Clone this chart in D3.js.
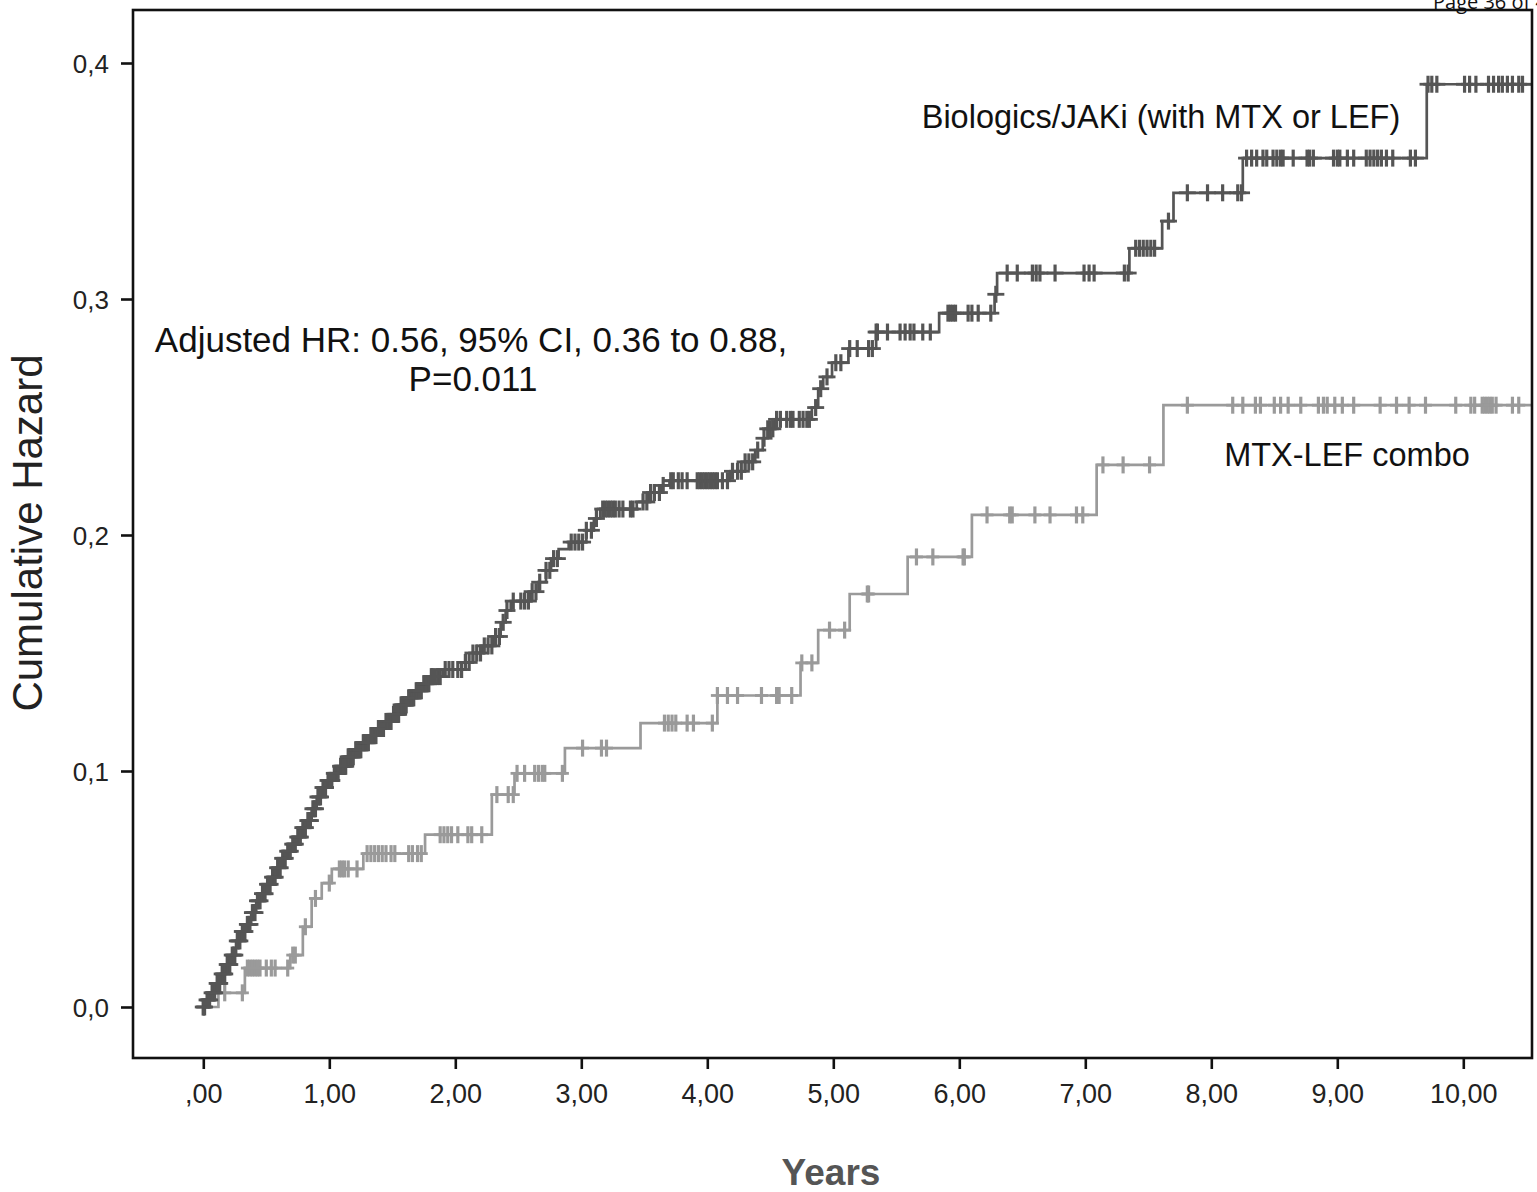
<!DOCTYPE html>
<html>
<head>
<meta charset="utf-8">
<script src="https://cdn.jsdelivr.net/npm/d3@7"></script>
<style>
  body { margin: 0; background: #fff; }
  svg text { font-family: "Liberation Sans", Arial, sans-serif; }
</style>
</head>
<body>
<svg id="chart" width="1537" height="1192"></svg>
<script>
// cumulative hazard, biologics/JAKi (event times in years, hazard after event)
const bioTimes = [0.00, 0.02, 0.06, 0.10, 0.14, 0.18, 0.22, 0.26, 0.30, 0.34, 0.38, 0.42, 0.46, 0.50,
  0.54, 0.58, 0.62, 0.66, 0.70, 0.74, 0.78, 0.82, 0.86, 0.90, 0.94, 0.98, 1.03, 1.08, 1.14, 1.20,
  1.26, 1.32, 1.38, 1.44, 1.50, 1.56, 1.62, 1.68, 1.74, 1.80, 1.90, 2.08, 2.14, 2.22, 2.30, 2.36,
  2.40, 2.44, 2.60, 2.66, 2.72, 2.76, 2.82, 2.90, 3.04, 3.10, 3.15, 3.44, 3.54, 3.64, 3.70, 4.18,
  4.30, 4.38, 4.44, 4.48, 4.54, 4.83, 4.88, 4.92, 4.99, 5.12, 5.34, 5.84, 6.28, 6.30, 7.35, 7.61,
  7.70, 8.25, 9.71]
const bioHazard = [0.000, 0.003, 0.006, 0.010, 0.014, 0.018, 0.022, 0.028, 0.032, 0.035, 0.040, 0.045,
  0.048, 0.052, 0.055, 0.059, 0.063, 0.066, 0.069, 0.072, 0.076, 0.079, 0.084, 0.089, 0.093, 0.096,
  0.099, 0.102, 0.106, 0.109, 0.112, 0.115, 0.118, 0.121, 0.124, 0.128, 0.131, 0.134, 0.137, 0.140,
  0.143, 0.146, 0.150, 0.153, 0.157, 0.163, 0.168, 0.172, 0.176, 0.180, 0.185, 0.190, 0.194, 0.197,
  0.202, 0.207, 0.211, 0.214, 0.218, 0.221, 0.223, 0.227, 0.231, 0.236, 0.241, 0.245, 0.249, 0.254,
  0.262, 0.267, 0.273, 0.279, 0.286, 0.294, 0.302, 0.311, 0.3215, 0.333, 0.345, 0.3597, 0.391]
const bioCensored = [0.00, 0.01, 0.03, 0.04, 0.05, 0.07, 0.08, 0.09, 0.11, 0.12, 0.13, 0.15, 0.16, 0.17,
  0.19, 0.20, 0.21, 0.23, 0.24, 0.25, 0.27, 0.28, 0.29, 0.31, 0.32, 0.33, 0.35, 0.36, 0.37, 0.39, 0.40,
  0.41, 0.43, 0.44, 0.45, 0.47, 0.48, 0.49, 0.51, 0.52, 0.53, 0.55, 0.56, 0.57, 0.59, 0.60, 0.61, 0.63,
  0.64, 0.65, 0.67, 0.68, 0.69, 0.71, 0.72, 0.73, 0.75, 0.76, 0.77, 0.79, 0.80, 0.81, 0.83, 0.84, 0.85,
  0.87, 0.88, 0.89, 0.91, 0.92, 0.93, 0.95, 0.96, 0.97, 0.99, 1.00, 1.01, 1.02, 1.04, 1.05, 1.06, 1.07,
  1.09, 1.10, 1.11, 1.12, 1.13, 1.15, 1.16, 1.17, 1.18, 1.19, 1.21, 1.22, 1.23, 1.24, 1.25, 1.27, 1.28,
  1.29, 1.30, 1.31, 1.33, 1.34, 1.35, 1.36, 1.37, 1.39, 1.40, 1.41, 1.42, 1.43, 1.45, 1.46, 1.47, 1.48,
  1.49, 1.51, 1.52, 1.53, 1.54, 1.55, 1.57, 1.58, 1.59, 1.60, 1.61, 1.63, 1.64, 1.65, 1.66, 1.67, 1.69,
  1.70, 1.71, 1.72, 1.73, 1.75, 1.76, 1.77, 1.78, 1.79, 1.81, 1.82, 1.84, 1.86, 1.88, 1.92, 1.95, 1.98,
  2.02, 2.05, 2.08, 2.11, 2.14, 2.17, 2.20, 2.23, 2.26, 2.29, 2.32, 2.35, 2.38, 2.41, 2.46, 2.52, 2.55,
  2.58, 2.61, 2.64, 2.67, 2.72, 2.75, 2.78, 2.81, 2.92, 2.95, 2.98, 3.01, 3.04, 3.08, 3.12, 3.17, 3.19,
  3.21, 3.23, 3.25, 3.27, 3.30, 3.33, 3.39, 3.41, 3.49, 3.52, 3.55, 3.58, 3.62, 3.65, 3.71, 3.73, 3.77,
  3.80, 3.84, 3.92, 3.94, 3.96, 3.98, 4.00, 4.02, 4.04, 4.06, 4.08, 4.12, 4.16, 4.20, 4.24, 4.27, 4.30,
  4.33, 4.36, 4.40, 4.45, 4.48, 4.50, 4.52, 4.55, 4.58, 4.63, 4.66, 4.68, 4.73, 4.76, 4.79, 4.81, 4.86,
  4.90, 4.95, 5.02, 5.06, 5.13, 5.19, 5.28, 5.31, 5.34, 5.35, 5.43, 5.53, 5.57, 5.61, 5.64, 5.71, 5.77,
  5.91, 5.93, 5.95, 5.97, 6.07, 6.10, 6.15, 6.25, 6.29, 6.38, 6.46, 6.58, 6.61, 6.64, 6.76, 6.99, 7.03,
  7.07, 7.31, 7.34, 7.40, 7.43, 7.46, 7.49, 7.52, 7.55, 7.66, 7.81, 7.97, 8.09, 8.21, 8.24, 8.28, 8.32,
  8.36, 8.41, 8.44, 8.49, 8.52, 8.55, 8.57, 8.65, 8.76, 8.78, 8.81, 8.97, 9.00, 9.02, 9.08, 9.13, 9.23,
  9.26, 9.29, 9.32, 9.35, 9.39, 9.44, 9.58, 9.62, 9.72, 9.75, 9.79, 10.01, 10.05, 10.10, 10.20, 10.24,
  10.28, 10.31, 10.35, 10.39, 10.44, 10.47]

// cumulative hazard, MTX-LEF combination
const mtxTimes = [0.00, 0.12, 0.33, 0.69, 0.79, 0.86, 0.94, 1.02, 1.27, 1.76, 2.29, 2.47, 2.87, 3.47,
  4.08, 4.74, 4.88, 5.13, 5.59, 6.10, 7.09, 7.62]
const mtxHazard = [0.000, 0.006, 0.0165, 0.022, 0.034, 0.046, 0.0525, 0.0585, 0.065, 0.073, 0.090,
  0.099, 0.1097, 0.1203, 0.132, 0.1458, 0.1597, 0.175, 0.1907, 0.2085, 0.2297, 0.255]
const mtxCensored = [0.00, 0.17, 0.31, 0.35, 0.37, 0.39, 0.41, 0.43, 0.45, 0.50, 0.54, 0.57, 0.67, 0.71,
  0.73, 0.81, 0.89, 1.00, 1.08, 1.10, 1.12, 1.15, 1.22, 1.30, 1.33, 1.36, 1.39, 1.42, 1.45, 1.49, 1.52,
  1.63, 1.66, 1.70, 1.73, 1.88, 1.91, 1.94, 1.97, 2.02, 2.10, 2.13, 2.21, 2.33, 2.42, 2.46, 2.49, 2.55,
  2.63, 2.66, 2.69, 2.71, 2.85, 3.01, 3.16, 3.20, 3.66, 3.69, 3.72, 3.75, 3.84, 3.89, 4.04, 4.08, 4.16,
  4.24, 4.43, 4.55, 4.57, 4.67, 4.75, 4.83, 4.97, 5.09, 5.27, 5.28, 5.66, 5.79, 6.03, 6.04, 6.22, 6.40,
  6.42, 6.60, 6.72, 6.93, 6.98, 7.14, 7.30, 7.51, 7.81, 8.17, 8.25, 8.35, 8.39, 8.50, 8.55, 8.61, 8.71,
  8.85, 8.89, 8.92, 8.98, 9.04, 9.13, 9.34, 9.47, 9.57, 9.70, 9.94, 10.06, 10.09, 10.15, 10.17, 10.19,
  10.21, 10.23, 10.26, 10.39, 10.44]

const followUpEnd = 10.56
const yTicks = [0, 0.1, 0.2, 0.3, 0.4]
const xTicks = [0, 1, 2, 3, 4, 5, 6, 7, 8, 9, 10]

const svg = d3.select('#chart')
const frame = { left: 133, right: 1532, top: 10, bottom: 1058 }

const x = d3.scaleLinear().domain([0, 10]).range([203.3, 1463.3])
const y = d3.scaleLinear().domain([0, 0.4]).range([1007, 63])

svg.append('rect').attr('width', 1537).attr('height', 1192).attr('fill', '#fff')

svg.append('defs').append('clipPath').attr('id', 'plotclip')
  .append('rect')
  .attr('x', frame.left).attr('y', frame.top)
  .attr('width', frame.right - frame.left).attr('height', frame.bottom - frame.top)

const plot = svg.append('g').attr('clip-path', 'url(#plotclip)')

const hazardAt = (times, haz, t) => {
  let v = 0
  for (let i = 0; i < times.length; i++) if (times[i] <= t + 1e-9) v = haz[i]
  return v
}

const stepLine = d3.line()
  .x((d) => x(d[0]))
  .y((d) => y(d[1]))
  .curve(d3.curveStepAfter)

function drawCurve (times, haz, censored, color, arm) {
  const pts = times.map((t, i) => [t, haz[i]])
  pts.push([followUpEnd, haz[haz.length - 1]])
  const g = plot.append('g')
  g.append('path')
    .datum(pts)
    .attr('fill', 'none')
    .attr('stroke', color)
    .attr('stroke-width', 2.7)
    .attr('d', stepLine)

  const marks = g.selectAll('.cens')
    .data(censored)
    .join('g')
    .attr('class', 'cens')
    .attr('transform', (t) => `translate(${x(t)},${y(hazardAt(times, haz, t))})`)
  marks.append('line')
    .attr('x1', 0).attr('x2', 0).attr('y1', -8.5).attr('y2', 8.5)
    .attr('stroke', color).attr('stroke-width', 3.2)
  marks.append('line')
    .attr('x1', -arm).attr('x2', arm).attr('y1', 0).attr('y2', 0)
    .attr('stroke', color).attr('stroke-width', 2.8)
}

drawCurve(mtxTimes, mtxHazard, mtxCensored, '#9a9a9a', 6.5)
drawCurve(bioTimes, bioHazard, bioCensored, '#555555', 8.5)

// frame
svg.append('rect')
  .attr('x', frame.left).attr('y', frame.top)
  .attr('width', frame.right - frame.left).attr('height', frame.bottom - frame.top)
  .attr('fill', 'none').attr('stroke', '#111').attr('stroke-width', 2.6)

// axes
const yAxis = svg.append('g')
  .attr('transform', `translate(${frame.left},0)`)
  .call(d3.axisLeft(y).tickValues(yTicks).tickSize(12).tickSizeOuter(0)
    .tickFormat((d) => d3.format('.1f')(d).replace('.', ',')))
yAxis.select('.domain').remove()
yAxis.selectAll('.tick line').attr('stroke', '#111').attr('stroke-width', 2.6)
yAxis.selectAll('.tick text')
  .attr('x', -24).attr('dy', '0.36em')
  .attr('font-size', 26).attr('fill', '#222')
  .style('font-family', '"Liberation Sans", Arial, sans-serif')

const xAxis = svg.append('g')
  .attr('transform', `translate(0,${frame.bottom})`)
  .call(d3.axisBottom(x).tickValues(xTicks).tickSize(11).tickSizeOuter(0)
    .tickFormat((d) => d === 0 ? ',00' : d3.format('.2f')(d).replace('.', ',')))
xAxis.select('.domain').remove()
xAxis.selectAll('.tick line').attr('stroke', '#111').attr('stroke-width', 2.6)
xAxis.selectAll('.tick text')
  .attr('y', 26).attr('dy', '0.71em')
  .attr('font-size', 27).attr('fill', '#222')
  .style('font-family', '"Liberation Sans", Arial, sans-serif')

// axis titles
svg.append('text')
  .attr('transform', 'translate(42,533) rotate(-90)')
  .attr('text-anchor', 'middle')
  .attr('font-size', 42).attr('fill', '#222')
  .text('Cumulative Hazard')

svg.append('text')
  .attr('x', 831).attr('y', 1185)
  .attr('text-anchor', 'middle')
  .attr('font-size', 37).attr('font-weight', 'bold').attr('fill', '#555')
  .text('Years')

// annotations
svg.append('text')
  .attr('x', 471).attr('y', 352)
  .attr('text-anchor', 'middle')
  .attr('font-size', 35).attr('fill', '#111')
  .text('Adjusted HR: 0.56, 95% CI, 0.36 to 0.88,')
svg.append('text')
  .attr('x', 473).attr('y', 391)
  .attr('text-anchor', 'middle')
  .attr('font-size', 35).attr('fill', '#111')
  .text('P=0.011')

svg.append('text')
  .attr('x', 1161).attr('y', 128)
  .attr('text-anchor', 'middle')
  .attr('font-size', 32.5).attr('fill', '#111')
  .text('Biologics/JAKi (with MTX or LEF)')

svg.append('text')
  .attr('x', 1347).attr('y', 466)
  .attr('text-anchor', 'middle')
  .attr('font-size', 32.5).attr('fill', '#111')
  .text('MTX-LEF combo')

// page header, partly cut off as in the scanned page
svg.append('text')
  .attr('x', 1433).attr('y', 9)
  .attr('font-size', 20).attr('fill', '#111')
  .style('font-family', '"Open Sans", sans-serif')
  .text('Page 36 of 40')
</script>
</body>
</html>
